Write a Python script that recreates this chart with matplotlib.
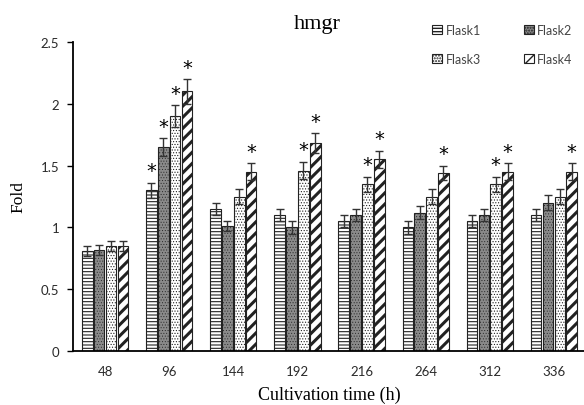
import matplotlib
matplotlib.use("Agg")
import matplotlib.pyplot as plt
import numpy as np
from matplotlib.patches import Patch

# Relative hmgr expression (fold) across cultivation time
times = ["48", "96", "144", "192", "216", "264", "312", "336"]
series = ["Flask1", "Flask2", "Flask3", "Flask4"]

flask1 = [0.81, 1.30, 1.15, 1.10, 1.05, 1.00, 1.05, 1.10]
flask2 = [0.82, 1.65, 1.01, 1.00, 1.10, 1.12, 1.10, 1.20]
flask3 = [0.85, 1.90, 1.25, 1.46, 1.35, 1.25, 1.35, 1.25]
flask4 = [0.85, 2.10, 1.45, 1.68, 1.55, 1.44, 1.45, 1.45]

err1 = [0.04, 0.06, 0.05, 0.05, 0.05, 0.05, 0.05, 0.05]
err2 = [0.04, 0.07, 0.04, 0.05, 0.05, 0.05, 0.05, 0.06]
err3 = [0.04, 0.09, 0.06, 0.07, 0.06, 0.06, 0.06, 0.06]
err4 = [0.04, 0.10, 0.07, 0.08, 0.07, 0.06, 0.07, 0.07]

# significance marks (1 = starred)
sig1 = [0, 1, 0, 0, 0, 0, 0, 0]
sig2 = [0, 1, 0, 0, 0, 0, 0, 0]
sig3 = [0, 1, 0, 1, 1, 0, 1, 0]
sig4 = [0, 1, 1, 1, 1, 1, 1, 1]

values = [flask1, flask2, flask3, flask4]
errors = [err1, err2, err3, err4]
sigs = [sig1, sig2, sig3, sig4]

styles = [
    dict(facecolor="white", hatch="-----", hlw=0.8),
    dict(facecolor="#8a8a8a", hatch="......", hlw=0.35),
    dict(facecolor="white", hatch="......", hlw=0.5),
    dict(facecolor="white", hatch="///", hlw=2.2),
]

fig = plt.figure(figsize=(5.84, 4.06), dpi=100)
ax = fig.add_axes([73 / 584, 54 / 406, 513 / 584, 309 / 406])

x = np.arange(len(times))
w = 0.165
offsets = (np.arange(4) - 1.5) * 0.185

for k in range(4):
    st = styles[k]
    bars = ax.bar(x + offsets[k], values[k], width=w, facecolor=st["facecolor"],
                  edgecolor="#222222", linewidth=0.8, hatch=st["hatch"], zorder=2)
    for b in bars:
        if hasattr(b, "set_hatch_linewidth"):
            b.set_hatch_linewidth(st["hlw"])
    ax.errorbar(x + offsets[k], values[k], yerr=errors[k], fmt="none",
                ecolor="#333333", elinewidth=1.0, capsize=3, capthick=1.0, zorder=3)
    for i in range(len(times)):
        if sigs[k][i]:
            ax.text(x[i] + offsets[k], values[k][i] + errors[k][i] + 0.02, "*",
                    ha="center", va="bottom", fontsize=14, color="black",
                    family="DejaVu Sans")

ax.set_xlim(-0.5, len(times) - 0.5)
ax.set_ylim(0, 2.5)
ax.set_yticks([0, 0.5, 1, 1.5, 2, 2.5])
ax.set_yticklabels(["0", "0.5", "1", "1.5", "2", "2.5"])
ax.set_xticks(x)
ax.set_xticklabels(times)
for lab in ax.get_xticklabels() + ax.get_yticklabels():
    lab.set_family("Lato")
    lab.set_fontsize(9.5)
    lab.set_color("#2a2a2a")

for s in ["top", "right"]:
    ax.spines[s].set_visible(False)
ax.spines["left"].set_linewidth(1.3)
ax.spines["bottom"].set_linewidth(1.3)
ax.tick_params(axis="x", length=0, pad=10)
ax.tick_params(axis="y", length=4, width=1.0, direction="out", pad=6)

ax.set_ylabel("Fold", family="Liberation Serif", fontsize=12.5, labelpad=10)
ax.set_xlabel("Cultivation time (h)", family="Liberation Serif", fontsize=13, labelpad=6)
fig.text(317 / 584, 1 - 25 / 406, "hmgr", family="Liberation Serif", fontsize=16,
         ha="center", va="center")

patches = [Patch(facecolor=st["facecolor"], edgecolor="#222222", hatch=st["hatch"],
                 linewidth=0.8, label=name) for st, name in zip(styles, series)]
# two columns, filled row-wise: Flask1 Flask2 / Flask3 Flask4
handles = [patches[0], patches[2], patches[1], patches[3]]
fig.legend(handles=handles, ncol=2, loc="upper left",
           bbox_to_anchor=(432 / 584, 1 - 25 / 406), frameon=False,
           borderaxespad=0, borderpad=0,
           prop={"family": "Lato", "size": 9}, labelcolor="#444444",
           handlelength=0.8, handleheight=0.8, handletextpad=0.3,
           columnspacing=3.4, labelspacing=1.35)

fig.savefig("out.png", dpi=100)
